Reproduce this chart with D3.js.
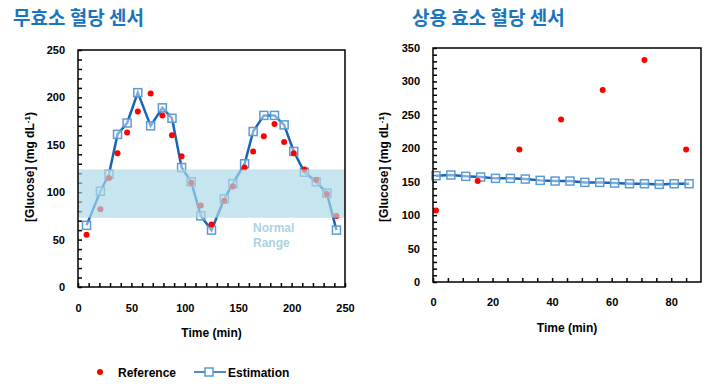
<!DOCTYPE html>
<html>
<head>
<meta charset="utf-8">
<script src="https://cdn.jsdelivr.net/npm/d3@7"></script>
<style>
  body { margin: 0; background: #fff; }
  svg { font-family: Arial, "Liberation Sans", sans-serif; }
  .title { font-family: "Noto Sans CJK KR", sans-serif; font-weight: 700; font-size: 19px; fill: #1b75bc; }
  .tick text { font-size: 11px; font-weight: 700; fill: #000; }
  .lbl { font-size: 12px; font-weight: 700; fill: #000; }
</style>
</head>
<body>
<div id="chart"></div>
<script>
// left panel: enzyme-free sensor
const leftTime = [8, 21, 29, 37, 46, 56, 68, 79, 88, 97, 106, 115, 125, 137, 145, 156, 164, 174, 184, 193, 202, 212, 223, 233, 242];
const leftReference = [55, 82, 115, 141, 163, 185, 204, 181, 160, 138, 110, 86, 66, 91, 106, 126, 143, 159, 172, 153, 141, 124, 113, 98, 75];
const leftEstimation = [65, 101, 119, 161, 173, 205, 170, 189, 178, 126, 111, 75, 60, 93, 109, 130, 164, 181, 181, 171, 143, 121, 111, 99, 60];
const normalRange = [73, 124];

// right panel: commercial enzyme sensor
const rightRefTime = [1, 15, 29, 43, 57, 71, 85];
const rightReference = [107, 151, 198, 243, 287, 332, 198];
const rightEstTime = [1, 6, 11, 16, 21, 26, 31, 36, 41, 46, 51, 56, 61, 66, 71, 76, 81, 86];
const rightEstimation = [159, 160, 158, 157, 155, 155, 154, 152, 151, 151, 149, 149, 148, 147, 147, 146, 147, 147];

const titles = ['무효소 혈당 센서', '상용 효소 혈당 센서'];
const legendLabels = ['Reference', 'Estimation'];

const W = 711;
const H = 389;
const lineColor = '#1a64b8';
const squareColor = '#5b9bd5';
const dotColor = '#ff0000';

const $svg = d3.select('#chart').append('svg').attr('width', W).attr('height', H);

function drawPanel(opt) {
    const x = d3.scaleLinear().domain(opt.xDomain).range(opt.xRange);
    const y = d3.scaleLinear().domain(opt.yDomain).range(opt.yRange);
    const $g = $svg.append('g');

    // title
    $g.append('text').attr('class', 'title')
        .attr('x', opt.titleX).attr('y', 25)
        .text(opt.title);

    // axes (ticks point inward)
    const $yAxis = $g.append('g')
        .attr('transform', `translate(${opt.xRange[0]},0)`)
        .call(d3.axisLeft(y)
            .tickValues(d3.range(opt.yDomain[0], opt.yDomain[1] + 1, 10))
            .tickFormat(d => (d % 50 === 0 ? d : ''))
            .tickSize(-4).tickPadding(13));
    const $xAxis = $g.append('g')
        .attr('transform', `translate(0,${opt.yRange[0]})`)
        .call(d3.axisBottom(x)
            .tickValues(opt.xTicks)
            .tickFormat(d => (d % opt.xLabelStep === 0 ? d : ''))
            .tickSize(-4).tickPadding(opt.xPad));
    [$yAxis, $xAxis].forEach($a => {
        $a.select('.domain').remove();
        $a.selectAll('.tick line').attr('stroke', '#000').attr('stroke-width', 1.5);
    });

    // estimation line + squares
    const est = opt.estTime.map((t, i) => [t, opt.estimation[i]]);
    $g.append('path').datum(est)
        .attr('fill', 'none').attr('stroke', lineColor).attr('stroke-width', 2.5)
        .attr('d', d3.line().x(d => x(d[0])).y(d => y(d[1])));
    $g.selectAll('rect.sq').data(est).join('rect').attr('class', 'sq')
        .attr('x', d => x(d[0]) - 4).attr('y', d => y(d[1]) - 4)
        .attr('width', 8).attr('height', 8)
        .attr('fill', 'rgba(255,255,255,0.45)').attr('stroke', squareColor).attr('stroke-width', 1.5);

    // reference dots
    $g.selectAll('circle.ref').data(opt.refTime.map((t, i) => [t, opt.reference[i]]))
        .join('circle').attr('class', 'ref')
        .attr('cx', d => x(d[0])).attr('cy', d => y(d[1])).attr('r', 3)
        .attr('fill', dotColor);

    // normal range band drawn over the data
    if (opt.band) {
        $g.append('rect')
            .attr('x', opt.xRange[0]).attr('width', opt.xRange[1] - opt.xRange[0])
            .attr('y', y(opt.band[1])).attr('height', y(opt.band[0]) - y(opt.band[1]))
            .attr('fill', '#add8e6').attr('opacity', 0.68);
        $g.append('text').attr('class', 'lbl').attr('fill', '#a9d3e4').style('fill', '#a9d3e4')
            .attr('x', 253).attr('y', 232).text('Normal');
        $g.append('text').attr('class', 'lbl').style('fill', '#a9d3e4')
            .attr('x', 253).attr('y', 247).text('Range');
    }

    // frame
    $g.append('rect')
        .attr('x', opt.xRange[0]).attr('y', opt.yRange[1])
        .attr('width', opt.xRange[1] - opt.xRange[0]).attr('height', opt.yRange[0] - opt.yRange[1])
        .attr('fill', 'none').attr('stroke', '#000').attr('stroke-width', 1.5);

    // axis titles
    $g.append('text').attr('class', 'lbl').attr('text-anchor', 'middle')
        .attr('x', (opt.xRange[0] + opt.xRange[1]) / 2).attr('y', opt.xTitleY)
        .text('Time (min)');
    const $yt = $g.append('text').attr('class', 'lbl').attr('text-anchor', 'middle')
        .attr('transform', `translate(${opt.yTitleX},167) rotate(-90)`);
    $yt.append('tspan').text('[Glucose] (mg dL');
    $yt.append('tspan').attr('dy', -4).style('font-size', '8px').text('-1');
    $yt.append('tspan').attr('dy', 4).text(')');
}

drawPanel({
    title: titles[0], titleX: 13,
    xDomain: [0, 250], xRange: [78, 345],
    yDomain: [0, 250], yRange: [287, 50],
    xTicks: d3.range(0, 251, 10), xLabelStep: 50, xPad: 17,
    estTime: leftTime, estimation: leftEstimation,
    refTime: leftTime, reference: leftReference,
    band: normalRange,
    xTitleY: 337, yTitleX: 34,
});

drawPanel({
    title: titles[1], titleX: 412,
    xDomain: [0, 90], xRange: [433, 701],
    yDomain: [0, 350], yRange: [282, 48],
    xTicks: d3.range(0, 86, 5), xLabelStep: 20, xPad: 16,
    estTime: rightEstTime, estimation: rightEstimation,
    refTime: rightRefTime, reference: rightReference,
    band: null,
    xTitleY: 332, yTitleX: 388,
});

// legend
const $leg = $svg.append('g').attr('transform', 'translate(0,372)');
$leg.append('circle').attr('cx', 100).attr('cy', 0).attr('r', 3).attr('fill', dotColor);
$leg.append('text').attr('class', 'lbl').attr('x', 118).attr('y', 4.5).text(legendLabels[0]);
$leg.append('line').attr('x1', 194).attr('x2', 226).attr('y1', 0).attr('y2', 0)
    .attr('stroke', lineColor).attr('stroke-width', 1.5);
$leg.append('rect').attr('x', 205).attr('y', -4).attr('width', 8).attr('height', 8)
    .attr('fill', '#fff').attr('stroke', squareColor).attr('stroke-width', 1.5);
$leg.append('text').attr('class', 'lbl').attr('x', 228).attr('y', 4.5).text(legendLabels[1]);
</script>
</body>
</html>
